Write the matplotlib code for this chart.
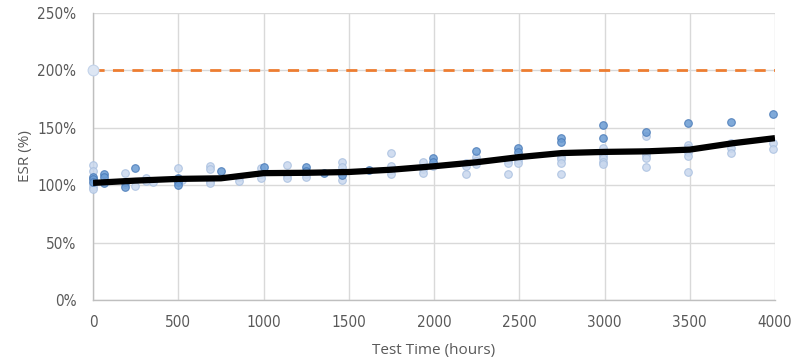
import matplotlib
matplotlib.use("Agg")
import matplotlib.pyplot as plt
from matplotlib import font_manager as fm
from matplotlib.ticker import FuncFormatter

# ---- data ----
dark_hours = [0, 0, 0, 66, 66, 66, 188, 188, 246, 497, 497, 497, 749,
              1000, 1247, 1247, 1355, 1458, 1620, 1996, 1996, 2245, 2495, 2495,
              2744, 2744, 2993, 2993, 3243, 3492, 3742, 3990]
dark_esr = [107, 105, 103, 109.8, 107.4, 101.6, 103, 98.7, 114.7, 106, 103, 100.2, 112.6,
            115.6, 115.6, 112.6, 110.9, 108.9, 113.2, 123.4, 120.5, 129.8, 132.1, 129.2,
            140.9, 137.9, 152.4, 141.4, 146, 153.9, 155.3, 161.8]

light_hours = [0, 0, 0, 0, 0, 188, 188, 246, 311, 311, 350, 497, 520, 686, 686, 686, 686,
               858, 858, 985, 985, 985, 1140, 1140, 1140, 1247, 1247,
               1458, 1458, 1458, 1458, 1746, 1746, 1746, 1746, 1937, 1937, 1937, 1996,
               2186, 2186, 2186, 2245, 2245, 2245, 2436, 2436, 2436, 2495, 2495,
               2744, 2744, 2744, 2744, 2993, 2993, 2993, 2993, 2993,
               3243, 3243, 3243, 3243, 3243, 3492, 3492, 3492, 3492, 3492,
               3742, 3742, 3742, 3990, 3990]
light_esr = [117.6, 112.6, 101, 98, 96.4, 110.3, 101, 99.6, 106, 103.7, 102.5, 114.7, 104.5,
             116.7, 113.8, 104, 101.5,
             106.9, 103.9, 114.7, 109.8, 106, 117.6, 109, 106, 109.8, 106.9,
             120.5, 116.1, 111.8, 104.5, 127.8, 116.7, 113.2, 109.5, 120.5, 113.8, 110.3, 116.7,
             119, 117, 109.8, 124.8, 121.3, 118.2, 122, 119, 109.8, 122, 119.6,
             124.8, 122.5, 119.6, 109.8, 132.1, 126.3, 123.4, 120.5, 118.2,
             142.9, 129.2, 126.5, 123.4, 116.1, 135, 132.1, 129, 125.7, 111.8,
             136.5, 132.1, 128.3, 136.5, 131.3]

limit_point_hours = [0]
limit_point_esr = [200]

trend_hours = [0, 250, 500, 750, 1000, 1250, 1500, 1750, 2000, 2250, 2500,
               2750, 3000, 3250, 3500, 3750, 4000]
trend_esr = [102, 104, 105.5, 106, 110.5, 110.8, 111.5, 113.5, 116.5, 120, 124.5,
             128, 129, 129.5, 131, 136.5, 141]

limit_hours = [0, 4000]
limit_esr = [200, 200]

x_ticks = [0, 500, 1000, 1500, 2000, 2500, 3000, 3500, 4000]
y_ticks = [0, 50, 100, 150, 200, 250]

# ---- fonts ----
names = {f.name for f in fm.fontManager.ttflist}
label_family = "Open Sans" if "Open Sans" in names else "DejaVu Sans"

fig = plt.figure(figsize=(8.05, 3.59), dpi=100)
ax = fig.add_axes([93 / 805, 1 - 300 / 359, (775 - 93) / 805, (300 - 13) / 359])

grid_c = "#d9d9d9"
ax.set_axisbelow(True)
ax.grid(True, color=grid_c, linewidth=1.0)

ax.plot(limit_hours, limit_esr, color="#ED7D31", linewidth=2.0, dashes=(4, 3), zorder=2)

ax.scatter(light_hours, light_esr, s=30, facecolor="#c9d8ee", edgecolor="#a9c0e0",
           linewidth=0.8, alpha=0.85, zorder=3, clip_on=False)
ax.scatter(dark_hours, dark_esr, s=30, facecolor="#6a9bd3", edgecolor="#4a7bb8",
           linewidth=0.8, alpha=0.85, zorder=3, clip_on=False)
ax.scatter(limit_point_hours, limit_point_esr, s=60, facecolor="#dde6f3", edgecolor="#c3d3ea",
           linewidth=0.8, zorder=3, clip_on=False)

ax.plot(trend_hours, trend_esr, color="black", linewidth=4.5, zorder=4,
        solid_capstyle="butt")

ax.set_xlim(0, 4000)
ax.set_ylim(0, 250)
ax.set_xticks(x_ticks)
ax.set_yticks(y_ticks)
ax.yaxis.set_major_formatter(FuncFormatter(lambda v, p: f"{int(v)}%"))

for s in ["top", "right"]:
    ax.spines[s].set_visible(False)
for s in ["left", "bottom"]:
    ax.spines[s].set_color("#bfbfbf")
    ax.spines[s].set_linewidth(1.0)

ax.tick_params(axis="both", length=0, colors="#595959", labelsize=11)
ax.tick_params(axis="x", pad=11)
ax.tick_params(axis="y", pad=12)
for lab in ax.get_xticklabels() + ax.get_yticklabels():
    lab.set_family("DejaVu Sans")
    lab.set_stretch("condensed")

ax.set_xlabel("Test Time (hours)", family=label_family, fontsize=11, color="#595959",
              labelpad=9)
ax.set_ylabel("ESR (%)", family=label_family, fontsize=11, color="#595959", labelpad=3)

fig.savefig("out.png", dpi=100)
